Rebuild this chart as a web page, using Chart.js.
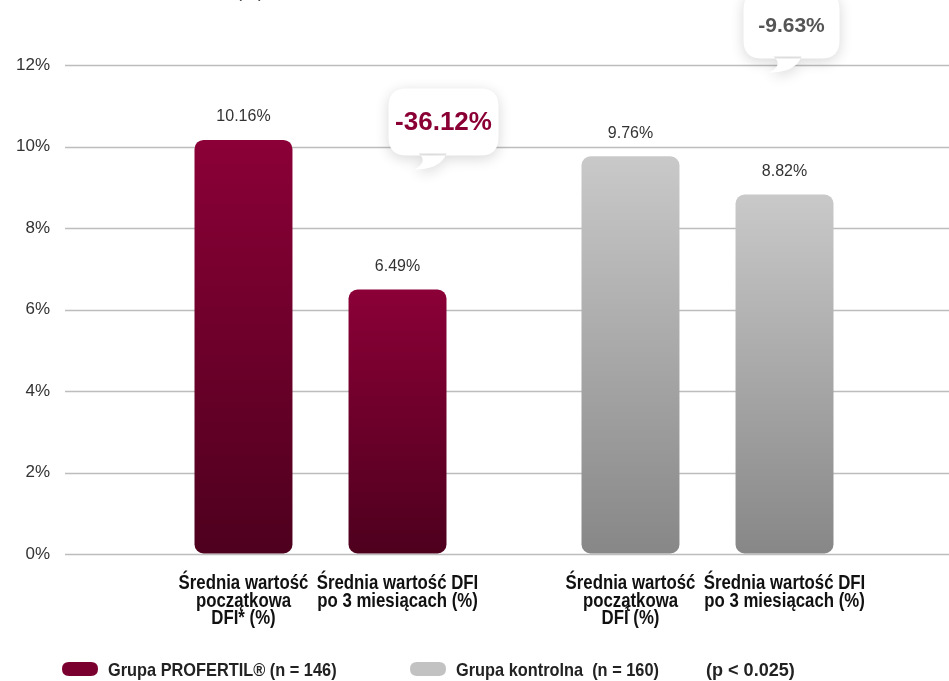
<!DOCTYPE html>
<html>
<head>
<meta charset="utf-8">
<script src="https://cdn.jsdelivr.net/npm/chart.js@4/dist/chart.umd.min.js"></script>
<style>
  html, body { margin: 0; padding: 0; background: #fff; }
  #wrap { position: relative; width: 949px; height: 681px; }
</style>
</head>
<body>
<div id="wrap"><canvas id="DfiChart"></canvas></div>
<script>
// values
const groups = ['Grupa PROFERTIL® (n = 146)', 'Grupa kontrolna  (n = 160)'];
const pValueText = '(p < 0.025)';
const baselineDfi = [10.16, 9.76];
const after3mDfi = [6.49, 8.82];
const baselineLabels = [
    ['Średnia wartość', 'początkowa', 'DFI* (%)'],
    ['Średnia wartość', 'początkowa', 'DFÍ (%)']
];
const after3mLabels = [
    ['Średnia wartość DFI', 'po 3 miesiącach (%)'],
    ['Średnia wartość DFI', 'po 3 miesiącach (%)']
];
const yTicks = [0, 2, 4, 6, 8, 10, 12];

const groupColors = [
    { top: '#8b0037', bottom: '#4e001d', pill: '#7a002f', bubbleText: '#8a0035' },
    { top: '#c9c9c9', bottom: '#878787', pill: '#c2c2c2', bubbleText: '#555555' }
];
const plain = "'Liberation Sans', Arial, sans-serif";

function barFill(context) {
    const chart = context.chart;
    const area = chart.chartArea;
    if (!area) return groupColors[context.dataIndex].top;
    const yScale = chart.scales.y;
    const top = yScale.getPixelForValue(context.raw);
    const bottom = yScale.getPixelForValue(0);
    const c = groupColors[context.dataIndex];
    const g = chart.ctx.createLinearGradient(0, top, 0, bottom);
    g.addColorStop(0, c.top);
    g.addColorStop(1, c.bottom);
    return g;
}

function roundRect(ctx, x, y, w, h, r) {
    ctx.moveTo(x + r, y);
    ctx.lineTo(x + w - r, y);
    ctx.quadraticCurveTo(x + w, y, x + w, y + r);
    ctx.lineTo(x + w, y + h - r);
    ctx.quadraticCurveTo(x + w, y + h, x + w - r, y + h);
    ctx.lineTo(x + r, y + h);
    ctx.quadraticCurveTo(x, y + h, x, y + h - r);
    ctx.lineTo(x, y + r);
    ctx.quadraticCurveTo(x, y, x + r, y);
}

// condensed look: squeeze a bold sans horizontally
function narrowText(ctx, text, x, y, align, squeeze) {
    ctx.save();
    ctx.translate(x, y);
    ctx.scale(squeeze, 1);
    ctx.textAlign = align;
    ctx.fillText(text, 0, 0);
    ctx.restore();
}

// grid lines across the whole width
const gridPlugin = {
    id: 'wideGrid',
    beforeDatasetsDraw(chart) {
        const ctx = chart.ctx;
        const yScale = chart.scales.y;
        ctx.save();
        ctx.strokeStyle = '#bdbdbd';
        ctx.lineWidth = 1.5;
        yScale.ticks.forEach(t => {
            const y = Math.round(yScale.getPixelForValue(t.value)) + 0.5;
            ctx.beginPath();
            ctx.moveTo(65, y);
            ctx.lineTo(chart.width, y);
            ctx.stroke();
        });
        ctx.restore();
    }
};

// values, category texts, bubbles, legend
const annotatePlugin = {
    id: 'annotate',
    afterDatasetsDraw(chart) {
        const ctx = chart.ctx;
        const labelSets = [baselineLabels, after3mLabels];
        ctx.save();

        // cut-off axis unit at the very top
        ctx.fillStyle = '#444';
        ctx.font = '18px ' + plain;
        ctx.textAlign = 'center';
        ctx.textBaseline = 'alphabetic';
        ctx.fillText('(%)', 250, -3);

        chart.data.datasets.forEach((ds, di) => {
            const meta = chart.getDatasetMeta(di);
            meta.data.forEach((bar, i) => {
                ctx.fillStyle = '#333';
                ctx.font = '16px ' + plain;
                ctx.textAlign = 'center';
                ctx.textBaseline = 'middle';
                ctx.fillText(ds.data[i].toFixed(2) + '%', bar.x, bar.y - 23);

                ctx.fillStyle = '#111';
                ctx.font = 'bold 20px ' + plain;
                ctx.textBaseline = 'alphabetic';
                labelSets[di][i].forEach((line, li) => {
                    narrowText(ctx, line, bar.x, 589 + li * 17.5, 'center', 0.84);
                });
            });
        });

        // speech bubbles with the relative change
        const bubbles = [
            { dx: -9, dy: -201, w: 110, font: 'bold 26px ' + plain },
            { dx: -41, dy: -203, w: 96, font: 'bold 21px ' + plain }
        ];
        const after = chart.getDatasetMeta(1).data;
        bubbles.forEach((b, i) => {
            const bar = after[i];
            const h = 67;
            const x = bar.x + b.dx;
            const y = bar.y + b.dy;
            const change = (after3mDfi[i] - baselineDfi[i]) / baselineDfi[i] * 100;
            ctx.save();
            ctx.shadowColor = 'rgba(0,0,0,0.16)';
            ctx.shadowBlur = 14;
            ctx.shadowOffsetY = 3;
            ctx.fillStyle = '#fff';
            ctx.beginPath();
            roundRect(ctx, x, y, b.w, h, 18);
            ctx.moveTo(x + 30, y + h - 2);
            ctx.quadraticCurveTo(x + 40, y + h + 6, x + 26, y + h + 14);
            ctx.quadraticCurveTo(x + 52, y + h + 14, x + 58, y + h - 2);
            ctx.closePath();
            ctx.fill();
            ctx.restore();
            ctx.fillStyle = groupColors[i].bubbleText;
            ctx.font = b.font;
            ctx.textAlign = 'center';
            ctx.textBaseline = 'middle';
            ctx.fillText(change.toFixed(2) + '%', x + b.w / 2, y + h / 2 + 1);
        });

        // legend
        const legendX = [62, 410];
        ctx.textBaseline = 'alphabetic';
        ctx.font = 'bold 19px ' + plain;
        groups.forEach((g, i) => {
            ctx.fillStyle = groupColors[i].pill;
            ctx.beginPath();
            roundRect(ctx, legendX[i], 662, 36, 14, 7);
            ctx.fill();
            ctx.fillStyle = '#222';
            narrowText(ctx, g, legendX[i] + 46, 676, 'left', 0.86);
        });
        narrowText(ctx, pValueText, 706, 676, 'left', 0.95);
        ctx.restore();
    }
};

const dfiCanvas = document.getElementById('DfiChart');

const dfiChart = new Chart(
    dfiCanvas,
    {
        type: 'bar',
        data: {
            labels: groups,
            datasets: [
                {
                    label: 'Średnia wartość początkowa DFI (%)',
                    data: baselineDfi,
                    backgroundColor: barFill,
                },
                {
                    label: 'Średnia wartość DFI po 3 miesiącach (%)',
                    data: after3mDfi,
                    backgroundColor: barFill,
                }
            ]
        },
        options: {
            responsive: true,
            maintainAspectRatio: false,
            animation: false,
            devicePixelRatio: 1,
            layout: {
                padding: { top: 65, bottom: 127, right: 48, left: 0 }
            },
            datasets: {
                bar: {
                    categoryPercentage: 0.796,
                    barPercentage: 0.636,
                    borderRadius: 9,
                    borderSkipped: false,
                }
            },
            scales: {
                x: {
                    display: false,
                },
                y: {
                    min: 0,
                    max: 12,
                    afterFit: (scale) => { scale.width = 127; },
                    afterBuildTicks: (scale) => {
                        scale.ticks = yTicks.map(v => ({ value: v }));
                    },
                    grid: {
                        display: true,
                        drawOnChartArea: false,
                        drawTicks: true,
                        tickLength: 67,
                        color: 'rgba(0,0,0,0)',
                    },
                    border: {
                        display: false
                    },
                    ticks: {
                        padding: 10,
                        color: '#333',
                        font: { size: 17, family: plain },
                        callback: (v) => v + '%'
                    }
                }
            },
            plugins: {
                legend: { display: false },
                tooltip: { enabled: false }
            }
        },
        plugins: [gridPlugin, annotatePlugin]
    }
);
</script>
</body>
</html>
